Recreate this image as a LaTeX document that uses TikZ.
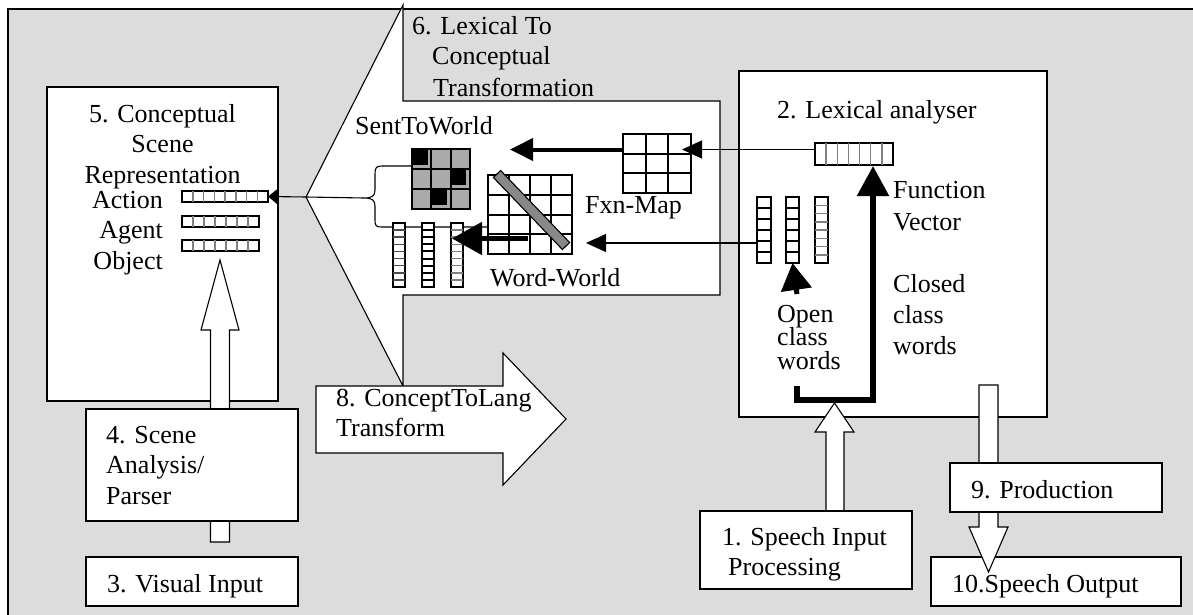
\documentclass[tikz,border=0pt]{standalone}
\usepackage{fontspec}
\setmainfont{Liberation Serif}
\usetikzlibrary{arrows.meta}
\definecolor{bgcol}{RGB}{220,220,220}
\definecolor{cellgray}{RGB}{170,170,170}
\definecolor{bargray}{RGB}{136,136,136}
\newcommand\myhcells[6]{\foreach \i in {1,...,#5}{\draw[#6] ({#1+\i*(#3-#1)/(#5+1)},#2) -- ({#1+\i*(#3-#1)/(#5+1)},#4);}}
\newcommand\myvcells[6]{\foreach \i in {1,...,#5}{\draw[#6] (#1,{#2+\i*(#4-#2)/(#5+1)}) -- (#3,{#2+\i*(#4-#2)/(#5+1)});}}
\begin{document}
\begin{tikzpicture}[x=1pt,y=-1pt,
  box/.style={draw=black, fill=white, line width=1.1pt, inner sep=0pt, outer sep=0pt, anchor=north west},
  vecbox/.style={draw=black, fill=white, line width=1.8pt, inner sep=0pt, outer sep=0pt, anchor=north west},
  lbl/.style={font=\fontsize{26}{30}\selectfont, inner sep=0pt, anchor=base west},
  blockarrow/.style={draw=black, fill=white, line width=1.1pt, line join=miter},
  thinarrow/.style={line width=1.1pt, -{Triangle[length=20pt,width=18pt]}},
  thickarrow/.style={line width=4pt, -{Triangle[length=23pt,width=22pt]}},
  gridline/.style={line width=2pt, black},
  graysep/.style={line width=1.5pt, gray},
  blacksep/.style={line width=2pt, black},
]
\useasboundingbox (0,0) rectangle (1193,615);
% outer frame
\fill[bgcol, draw=black, line width=1.6pt] (8,9) rectangle (1215,640);

% box 5
\node[box, minimum width=231pt, minimum height=314pt] (b5) at (47,87) {};
% block arrow 4 -> 5
\draw[blockarrow] (210.5,542) -- (210.5,330) -- (201,330) -- (220,260) -- (239,330) -- (229.5,330) -- (229.5,542) -- cycle;
% box 4 and 3
\node[box, minimum width=212pt, minimum height=112pt] (b4) at (86,409) {};
\node[box, minimum width=212pt, minimum height=49pt] (b3) at (86,557) {};

% callout 6
\draw[blockarrow, line join=miter] (306,197) -- (403,5) -- (403,101) -- (720,101) -- (720,295) -- (403,295) -- (403,386) -- cycle;
% block arrow 8
\draw[blockarrow] (316,386) -- (503,386) -- (503,353) -- (566,419) -- (503,485) -- (503,453) -- (316,453) -- cycle;

% box 2
\node[box, minimum width=308pt, minimum height=346pt] (b2) at (739,71) {};
% speech input arrow
\draw[blockarrow] (826,511) -- (826,432) -- (815,432) -- (834.5,403) -- (854,432) -- (844,432) -- (844,511) -- cycle;
\node[box, minimum width=212pt, minimum height=78pt] (b1) at (700,511) {};
% box 10 and production arrow, box 9
\node[box, minimum width=250pt, minimum height=49pt] (b10) at (931,557) {};
\draw[blockarrow] (979,385) -- (979,527) -- (969,527) -- (988.5,572) -- (1008,527) -- (998,527) -- (998,385) -- cycle;
\node[box, minimum width=212pt, minimum height=49pt] (b9) at (950,463) {};

% texts
\node[lbl, anchor=base] (t5a) at (162.5,122) {5. Conceptual};
\node[lbl, anchor=base] (t5b) at (162.5,152) {Scene};
\node[lbl, anchor=base] (t5c) at (162.5,183) {Representation};
\node[lbl, anchor=base east] (tact) at (163,208) {Action};
\node[lbl, anchor=base east] (tage) at (163,238) {Agent};
\node[lbl, anchor=base east] (tobj) at (163,269) {Object};
\node[lbl] (t4a) at (106,443) {4. Scene};
\node[lbl] (t4b) at (106,473) {Analysis/};
\node[lbl] (t4c) at (106,504) {Parser};
\node[lbl] (t3) at (107,592) {3. Visual Input};
\node[lbl] (t6a) at (412,35) {6. Lexical To};
\node[lbl] (t6b) at (432,65) {Conceptual};
\node[lbl] (t6c) at (433,97) {Transformation};
\node[lbl] (t8a) at (336,406) {8. ConceptToLang};
\node[lbl] (t8b) at (336,436) {Transform};
\node[lbl] (tstw) at (355,135) {SentToWorld};
\node[lbl] (tfxn) at (585,213) {Fxn-Map};
\node[lbl] (tww) at (490,286) {Word-World};
\node[lbl] (t2) at (777,119) {2. Lexical analyser};
\node[lbl] (tfa) at (893,198) {Function};
\node[lbl] (tfb) at (893,230) {Vector};
\node[lbl] (tca) at (893,292) {Closed};
\node[lbl] (tcb) at (893,323) {class};
\node[lbl] (tcc) at (893,354) {words};
\node[lbl] (toa) at (777,322) {Open};
\node[lbl] (tob) at (777,345) {class};
\node[lbl] (toc) at (777,369) {words};
\node[lbl] (t1a) at (722,545) {1. Speech Input};
\node[lbl] (t1b) at (728,575) {Processing};
\node[lbl] (t9) at (971,498) {9. Production};
\node[lbl] (t10) at (952,592) {10.Speech Output};

% brace and connectors in callout
\coordinate (apex) at (306,197);
\coordinate (btip) at (364,198);
\draw[line width=1.1pt] (apex) -- (btip);
\draw[line width=1.1pt] (412,166) -- (382,166) .. controls (376,166) and (375,168) .. (375,174) -- (375,190) .. controls (375,196) and (372,198) .. (btip) .. controls (372,198) and (375,200) .. (375,206) -- (375,220) .. controls (375,226) and (376,227) .. (382,227) -- (488,227);

% vectors in box 5
\node[vecbox, minimum width=86pt, minimum height=11pt] (vact) at (182,191) {};
\myhcells{182}{191}{268}{202}{7}{graysep}
\node[vecbox, minimum width=77pt, minimum height=11pt] (vage) at (182,216) {};
\myhcells{182}{216}{259}{227}{6}{graysep}
\node[vecbox, minimum width=77pt, minimum height=11pt] (vobj) at (182,240) {};
\myhcells{182}{240}{259}{251}{6}{graysep}
\draw[line width=1.1pt, -{Triangle[length=10pt,width=16pt]}] (apex) -- (vact.east);

% SentToWorld matrix
\node[vecbox, fill=cellgray, minimum width=58pt, minimum height=60pt, line width=2pt] (stw) at (412,149) {};
\fill[black] (412,149) rectangle ++(15.5,16);
\fill[black] (450.7,169) rectangle ++(15.5,16);
\fill[black] (431.3,189) rectangle ++(15.5,16);
\myhcells{412}{149}{470}{209}{2}{gridline}
\myvcells{412}{149}{470}{209}{2}{gridline}
\draw[line width=2pt] (412,149) rectangle (470,209);

% Word-World matrix
\node[vecbox, minimum width=84pt, minimum height=79pt, line width=2pt] (ww) at (488,175) {};
\myhcells{488}{175}{572}{254}{3}{gridline}
\myvcells{488}{175}{572}{254}{3}{gridline}
\draw[fill=bargray, line width=1.1pt] (500.6,170.5) -- (493.4,177.5) -- (562.4,249.5) -- (569.6,242.5) -- cycle;

% Fxn-Map matrix
\node[vecbox, minimum width=68pt, minimum height=59pt, line width=2pt] (fm) at (623,134) {};
\myhcells{623}{134}{691}{193}{2}{gridline}
\myvcells{623}{134}{691}{193}{2}{gridline}

% vertical vectors in callout
\node[vecbox, minimum width=12pt, minimum height=64pt] (w1) at (393,223) {};
\myvcells{393}{223}{405}{287}{8}{line width=1.5pt, black!70}
\node[vecbox, minimum width=12pt, minimum height=64pt] (w2) at (422,223) {};
\myvcells{422}{223}{434}{287}{8}{blacksep}
\node[vecbox, minimum width=12pt, minimum height=64pt] (w3) at (451,223) {};
\myvcells{451}{223}{463}{287}{8}{graysep}

% vectors in lexical analyser
\node[vecbox, minimum width=78pt, minimum height=22pt] (fv) at (815,143) {};
\myhcells{815}{143}{893}{165}{6}{graysep}
\node[vecbox, minimum width=14pt, minimum height=66pt] (o1) at (757,197) {};
\myvcells{757}{197}{771}{263}{5}{blacksep}
\node[vecbox, minimum width=13pt, minimum height=66pt] (o2) at (786,197) {};
\myvcells{786}{197}{799}{263}{5}{blacksep}
\node[vecbox, minimum width=13pt, minimum height=66pt] (o3) at (815,197) {};
\myvcells{815}{197}{828}{263}{7}{graysep}

% connectors
\coordinate (fvout) at (815,149.5);
\coordinate (fmin) at (682,149.5);
\draw[thinarrow] (fvout) -- (fmin);
\coordinate (fmout) at (623,149.5);
\coordinate (stwin) at (510,149.5);
\draw[thickarrow] (fmout) -- (stwin);
\coordinate (o1out) at (757,243);
\coordinate (wwin) at (586,243);
\draw[thinarrow] (o1out) -- (wwin);
\coordinate (wwout) at (528,238.5);
\coordinate (w3in) at (452,238.5);
\draw[line width=5pt, -{Triangle[length=30pt,width=32pt]}] (wwout) -- (w3in);
% closed class bracket to function vector
\coordinate (fvin) at (873,166);
\draw[line width=5.5pt, line join=miter, -{Triangle[length=30pt,width=31pt]}] (797,386) -- (797,400) -- (873,400) -- (fvin);
% open class arrow
\draw[line width=5pt, -{Triangle[length=27pt,width=30pt]}] (797,294) -- (o2.south);
\end{tikzpicture}
\end{document}
